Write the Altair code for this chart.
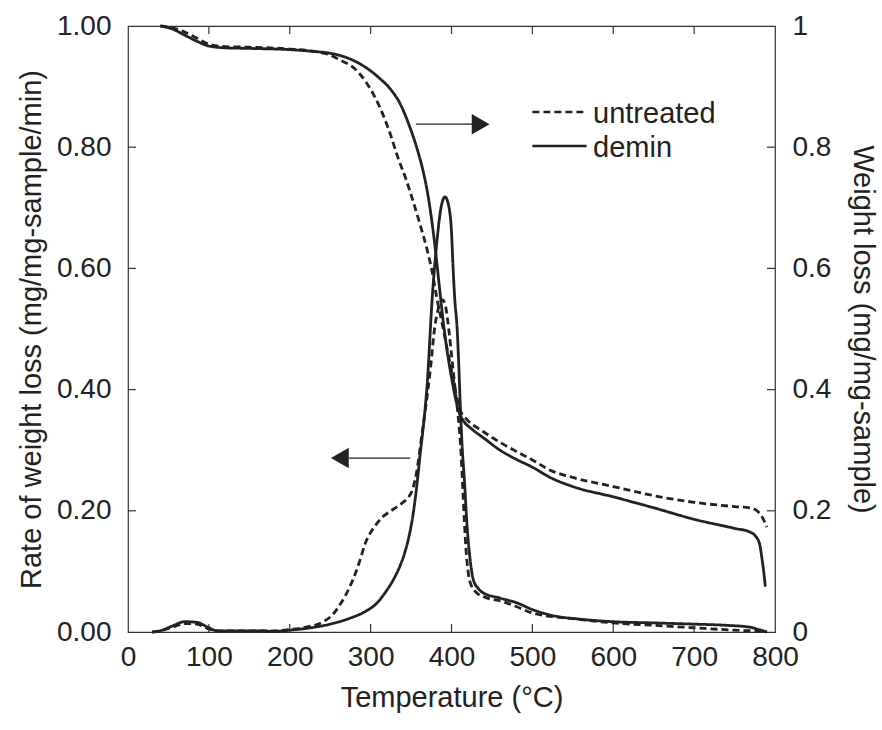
import altair as alt
import pandas as pd

FONT = "Liberation Sans"
INK = "#222222"

# ---------------- data ----------------
# DTG (rate of weight loss, left axis)
dtg_untreated_T = [30, 40, 55, 70, 85, 100, 110, 130, 160, 180, 200, 220, 240, 254, 262, 268, 274,
                   281, 287, 293, 299, 306, 315, 324, 332, 340, 346, 352, 357, 363, 368, 374, 379,
                   384, 389, 393, 397, 401, 405, 409, 412, 414, 416, 418, 421, 425, 430, 440, 464,
                   480, 501, 550, 600, 650, 699, 750, 785, 790]
dtg_untreated_rate = [0.0, 0.002, 0.008, 0.014, 0.013, 0.005, 0.002, 0.002, 0.002, 0.002, 0.004,
                      0.008, 0.016, 0.030, 0.045, 0.058, 0.074, 0.096, 0.119, 0.145, 0.162, 0.176,
                      0.190, 0.199, 0.206, 0.214, 0.221, 0.236, 0.265, 0.322, 0.370, 0.435, 0.500,
                      0.535, 0.548, 0.535, 0.495, 0.445, 0.395, 0.345, 0.290, 0.235, 0.180, 0.135,
                      0.095, 0.075, 0.066, 0.058, 0.050, 0.042, 0.031, 0.022, 0.015, 0.011, 0.007,
                      0.003, 0.001, 0.0]

dtg_demin_T = [30, 40, 55, 70, 85, 100, 110, 130, 160, 180, 200, 226, 250, 275, 295, 308, 318, 328,
               336, 342, 347, 352, 357, 361, 366, 370, 376, 383, 387, 392, 397, 400, 402, 404, 407,
               409, 411, 413, 416, 419, 423, 427, 433, 440, 460, 481, 500, 522, 560, 600, 650, 700,
               740, 769, 780, 790]
dtg_demin_rate = [0.0, 0.002, 0.010, 0.017, 0.016, 0.007, 0.002, 0.002, 0.002, 0.001, 0.003, 0.007,
                  0.013, 0.023, 0.035, 0.048, 0.065, 0.086, 0.108, 0.130, 0.155, 0.190, 0.240,
                  0.290, 0.350, 0.410, 0.548, 0.658, 0.700, 0.718, 0.700, 0.660, 0.600, 0.550,
                  0.500, 0.440, 0.370, 0.310, 0.250, 0.180, 0.120, 0.086, 0.072, 0.064, 0.056,
                  0.048, 0.037, 0.028, 0.021, 0.017, 0.015, 0.013, 0.011, 0.008, 0.004, 0.0]

# TG (weight loss, right axis)
tg_untreated_T = [40, 55, 70, 85, 100, 120, 150, 200, 230, 250, 262, 280, 295, 310, 324, 334, 343,
                  352, 361, 370, 376, 382, 389, 395, 401, 407, 412, 418, 440, 460, 480, 500, 522,
                  550, 600, 658, 700, 750, 769, 781, 786, 790]
tg_untreated_w = [1.0, 0.997, 0.990, 0.980, 0.970, 0.966, 0.965, 0.962, 0.958, 0.952, 0.944, 0.930,
                  0.906, 0.870, 0.823, 0.782, 0.750, 0.713, 0.673, 0.630, 0.595, 0.550, 0.505,
                  0.465, 0.425, 0.385, 0.362, 0.352, 0.330, 0.313, 0.298, 0.284, 0.267, 0.255,
                  0.240, 0.223, 0.214, 0.207, 0.205, 0.196, 0.185, 0.173]

tg_demin_T = [40, 55, 70, 85, 100, 120, 150, 200, 230, 250, 270, 290, 310, 325, 336, 348, 358, 365,
              371, 376, 381, 385, 390, 395, 400, 405, 410, 415, 425, 440, 460, 480, 500, 522, 550,
              600, 650, 700, 750, 769, 776, 781, 784, 786, 788]
tg_demin_w = [1.0, 0.995, 0.985, 0.975, 0.967, 0.964, 0.963, 0.961, 0.958, 0.955, 0.948, 0.935,
              0.915, 0.895, 0.873, 0.835, 0.795, 0.760, 0.720, 0.675, 0.620, 0.570, 0.510, 0.460,
              0.420, 0.385, 0.360, 0.348, 0.335, 0.320, 0.300, 0.285, 0.272, 0.255, 0.240, 0.223,
              0.205, 0.186, 0.171, 0.165, 0.158, 0.145, 0.120, 0.100, 0.075]

samples = ["untreated", "demin"]
x_ticks = [0, 100, 200, 300, 400, 500, 600, 700, 800]
inner_x_ticks = [100, 200, 300, 400, 500, 600, 700]
y_ticks = [0, 0.2, 0.4, 0.6, 0.8, 1.0]
inner_y_ticks = [0.2, 0.4, 0.6, 0.8]

# annotation arrows (data coordinates): line start, line end, height, head position
arrow_x1 = [356, 273]
arrow_x2 = [432, 349]
arrow_y = [0.838, 0.287]
arrow_head_x = [436, 262]
arrow_shape = ["triangle-right", "triangle-left"]

# in-plot legend (data coordinates)
legend_x1 = [500, 500]
legend_x2 = [567, 567]
legend_y = [0.858, 0.802]
legend_text_x = [575, 575]


def frame(T, v, sample):
    return pd.DataFrame({"T": T, "v": v, "sample": sample})


dtg = pd.concat([frame(dtg_untreated_T, dtg_untreated_rate, samples[0]),
                 frame(dtg_demin_T, dtg_demin_rate, samples[1])])
tg = pd.concat([frame(tg_untreated_T, tg_untreated_w, samples[0]),
                frame(tg_demin_T, tg_demin_w, samples[1])])

W, H = 647, 606

xscale = alt.Scale(domain=[0, 800], nice=False, zero=False)
yscale = alt.Scale(domain=[0, 1], nice=False, zero=False)
dash = alt.Scale(domain=samples, range=[[7, 4], [1, 0]])

common_axis = dict(labelFont=FONT, titleFont=FONT, labelColor=INK, titleColor=INK,
                   labelFontSize=28, titleFontSize=29, titleFontWeight="normal",
                   ticks=False, domain=False, grid=False, labelFlush=False,
                   labelOverlap=False, labelBound=False)

xaxis = alt.Axis(values=x_ticks, format="d", title="Temperature (°C)",
                 labelPadding=11, titlePadding=12, **common_axis)
x_enc = alt.X("T:Q", scale=xscale, axis=xaxis)

left_axis = alt.Axis(orient="left", values=y_ticks, format=".2f",
                     title="Rate of weight loss (mg/mg-sample/min)",
                     labelPadding=17, titlePadding=10, **common_axis)
right_axis = alt.Axis(orient="right", values=y_ticks, format="~g",
                      title="Weight loss (mg/mg-sample)",
                      labelPadding=17, titlePadding=17, **common_axis)
y_left = alt.Y("v:Q", scale=yscale, axis=left_axis)

dtg_lines = alt.Chart(dtg).mark_line(color=INK, strokeWidth=2.8, interpolate="monotone").encode(
    x=x_enc,
    y=y_left,
    strokeDash=alt.StrokeDash("sample:N", scale=dash, legend=None),
    detail="sample:N",
)

# inward tick marks
xt = pd.DataFrame({"T": inner_x_ticks})
yt = pd.DataFrame({"v": inner_y_ticks})
tick_style = dict(color="#333333", strokeWidth=1.2)
ticks_bottom = alt.Chart(xt).mark_rule(**tick_style).encode(
    x=x_enc, y=alt.value(H), y2=alt.value(H - 8))
ticks_top = alt.Chart(xt).mark_rule(**tick_style).encode(
    x=x_enc, y=alt.value(0), y2=alt.value(8))
ticks_left = alt.Chart(yt).mark_rule(**tick_style).encode(
    y=y_left, x=alt.value(0), x2=alt.value(8))
ticks_right = alt.Chart(yt).mark_rule(**tick_style).encode(
    y=y_left, x=alt.value(W), x2=alt.value(W - 8))

arrows = pd.DataFrame({"T": arrow_x1, "T2": arrow_x2, "v": arrow_y,
                       "head": arrow_head_x, "shape": arrow_shape})
arrow_lines = alt.Chart(arrows).mark_rule(color=INK, strokeWidth=1.3).encode(
    x=x_enc, x2="T2:Q", y=y_left)
arrow_heads = alt.Chart(arrows).mark_point(filled=True, color=INK, opacity=1, size=420).encode(
    x=alt.X("head:Q", scale=xscale, axis=xaxis),
    y=y_left,
    shape=alt.Shape("shape:N", scale=alt.Scale(domain=arrow_shape, range=arrow_shape), legend=None),
)

leg = pd.DataFrame({"T": legend_x1, "T2": legend_x2, "v": legend_y,
                    "tx": legend_text_x, "sample": samples})
legend_lines = alt.Chart(leg).mark_rule(color=INK, strokeWidth=2.4).encode(
    x=x_enc, x2="T2:Q", y=y_left,
    strokeDash=alt.StrokeDash("sample:N", scale=dash, legend=None),
)
legend_text = alt.Chart(leg).mark_text(
    align="left", baseline="middle", dy=2, font=FONT, fontSize=29, color=INK
).encode(
    x=alt.X("tx:Q", scale=xscale, axis=xaxis), y=y_left, text="sample:N")

left = alt.layer(dtg_lines, ticks_bottom, ticks_top, ticks_left, ticks_right,
                 arrow_lines, arrow_heads, legend_lines, legend_text)

tg_lines = alt.Chart(tg).mark_line(color=INK, strokeWidth=2.8, interpolate="monotone").encode(
    x=x_enc,
    y=alt.Y("v:Q", scale=yscale, axis=right_axis),
    strokeDash=alt.StrokeDash("sample:N", scale=dash, legend=None),
    detail="sample:N",
)

chart = alt.layer(left, tg_lines).resolve_scale(y="independent").properties(
    width=W, height=H,
    autosize=alt.AutoSizeParams(type="none"),
    padding={"left": 128, "top": 26, "right": 107, "bottom": 98},
    background="white",
).configure_view(stroke="#333333", strokeWidth=1.2)

chart.save("out.html", embed_options={"renderer": "svg", "actions": False})
